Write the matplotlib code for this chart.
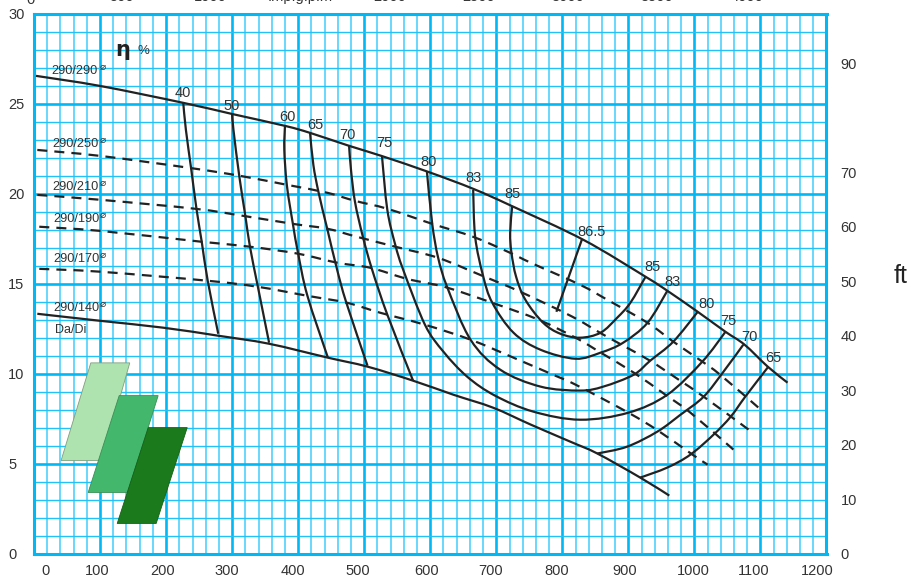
import matplotlib
matplotlib.use("Agg")
import matplotlib.pyplot as plt
from matplotlib.patches import PathPatch
from matplotlib.path import Path

plt.rcParams["font.family"] = ["Liberation Sans", "DejaVu Sans"]

# ---------------------------------------------------------------------------
# Data (x = m3/h scale, y = m)
# ---------------------------------------------------------------------------
x_ticks = list(range(0, 1300, 100))
x_labels = [str(v) for v in x_ticks]
x_label_pos = [17, 95, 194, 292, 392, 491, 594, 692, 791, 894, 998, 1089, 1186]
y_ticks = [0, 5, 10, 15, 20, 25, 30]
ft_ticks = [0, 10, 20, 30, 40, 50, 60, 70, 90]
gpm_ticks = [500, 1000, 1500, 2000, 2500, 3000, 3500, 4000]
gpm_labels = ["500", "1000", "Imp.g.p.m", "2000", "2500", "3000", "3500", "4000"]

d290_x = [3, 100, 226, 300, 380, 418, 477, 526, 597, 665, 723, 832, 926, 959, 1005, 1047, 1076, 1111, 1141]
d290_y = [26.56, 26.0, 25.06, 24.44, 23.78, 23.39, 22.67, 22.11, 21.22, 20.28, 19.33, 17.44, 15.39, 14.61, 13.44, 12.33, 11.61, 10.39, 9.5]

d250_x = [5, 100, 236, 312, 383, 444, 486, 535, 603, 665, 721, 752, 827, 868, 929, 968, 1012, 1039, 1097]
d250_y = [22.44, 22.11, 21.44, 21.0, 20.5, 20.06, 19.61, 19.17, 18.33, 17.61, 16.72, 16.17, 14.94, 14.11, 12.83, 11.78, 10.67, 9.94, 8.11]

d210_x = [5, 100, 244, 316, 392, 444, 489, 547, 612, 679, 736, 815, 862, 930, 976, 1014, 1082]
d210_y = [19.94, 19.67, 19.17, 18.78, 18.33, 18.06, 17.61, 17.06, 16.44, 15.44, 14.56, 13.17, 12.17, 10.78, 9.67, 8.72, 6.89]

d190_x = [8, 100, 255, 327, 400, 459, 509, 559, 585, 626, 694, 764, 823, 858, 908, 956, 994, 1059]
d190_y = [18.17, 17.94, 17.33, 17.06, 16.67, 16.17, 15.89, 15.33, 15.11, 14.78, 13.94, 13.0, 11.94, 11.17, 10.06, 8.83, 7.83, 5.78]

d170_x = [8, 100, 262, 339, 414, 474, 524, 592, 661, 726, 786, 820, 900, 945, 997, 1020]
d170_y = [15.83, 15.67, 15.17, 14.83, 14.33, 13.94, 13.39, 12.72, 11.89, 10.89, 9.94, 9.39, 7.83, 6.83, 5.5, 4.94]

d140_x = [5, 100, 195, 279, 355, 445, 505, 574, 635, 695, 752, 812, 853, 918, 962]
d140_y = [13.33, 12.94, 12.56, 12.11, 11.67, 10.89, 10.39, 9.61, 8.83, 8.11, 7.17, 6.22, 5.56, 4.22, 3.22]

eta40_x = [226, 230, 238, 246, 254, 263, 279]
eta40_y = [25.06, 23.56, 21.39, 19.17, 17.33, 15.17, 12.22]
eta50_x = [300, 302, 311, 320, 327, 339, 356]
eta50_y = [24.44, 23.56, 20.94, 18.78, 17.06, 14.83, 11.72]
eta60_x = [380, 379, 383, 392, 400, 414, 445]
eta60_y = [23.78, 22.44, 20.44, 18.33, 16.67, 14.33, 10.89]
eta65_x = [418, 423, 431, 444, 459, 473, 505]
eta65_y = [23.39, 21.61, 20.06, 18.06, 15.78, 13.94, 10.44]
eta70_x = [477, 480, 486, 498, 512, 535, 574]
eta70_y = [22.72, 21.33, 19.56, 17.61, 15.78, 13.28, 9.61]
eta75_x = [527, 535, 547, 559, 592, 620, 656, 698, 756, 827, 900, 959, 1012, 1047]
eta75_y = [22.06, 19.11, 17.17, 15.78, 12.72, 11.22, 9.83, 8.78, 7.89, 7.44, 7.83, 8.83, 10.67, 12.33]
eta80_x = [595, 603, 612, 626, 661, 706, 767, 827, 862, 908, 933, 968, 1005]
eta80_y = [21.22, 18.33, 16.44, 14.78, 11.89, 10.22, 9.28, 9.06, 9.28, 9.94, 10.72, 11.78, 13.44]
eta83_x = [665, 668, 680, 694, 726, 767, 820, 858, 892, 929, 959]
eta83_y = [20.22, 17.61, 15.44, 13.94, 12.28, 11.33, 10.83, 11.17, 11.72, 12.83, 14.61]
eta85_x = [724, 721, 723, 730, 744, 771, 797, 827, 858, 883, 903, 926]
eta85_y = [19.28, 17.83, 16.72, 15.39, 14.11, 12.83, 12.22, 12.0, 12.28, 13.11, 13.94, 15.39]
eta865_x = [830, 791]
eta865_y = [17.5, 13.44]
eta70r_x = [1074, 1044, 1014, 979, 944, 898, 853]
eta70r_y = [11.61, 10.11, 8.72, 7.72, 6.78, 5.94, 5.56]
eta65r_x = [1112, 1077, 1055, 1029, 994, 959, 918]
eta65r_y = [10.39, 8.72, 7.61, 6.61, 5.5, 4.78, 4.22]

# Green swatches
swatch_light_x = [86, 145, 103, 41]
swatch_light_y = [10.6, 10.6, 5.17, 5.17]
swatch_mid_x = [129, 188, 142, 82]
swatch_mid_y = [8.78, 8.78, 3.39, 3.39]
swatch_dark_x = [173, 232, 185, 126]
swatch_dark_y = [7.0, 7.0, 1.67, 1.67]

GRID = "#00b9f4"
GRID_H = "#22c2f7"
GRID_V = "#6ad6fc"
INK = "#222222"
TEXT = "#333333"
LW = 1.6


def smooth_curve(ax, cx, cy, **kw):
    # bezier path through the read points, the original lines are hand-smooth
    verts = [(cx[0], cy[0])]
    codes = [Path.MOVETO]
    n = len(cx)
    for i in range(n - 1):
        i0, i3 = max(i - 1, 0), min(i + 2, n - 1)
        verts.append((cx[i] + (cx[i + 1] - cx[i0]) / 6, cy[i] + (cy[i + 1] - cy[i0]) / 6))
        verts.append((cx[i + 1] - (cx[i3] - cx[i]) / 6, cy[i + 1] - (cy[i3] - cy[i]) / 6))
        verts.append((cx[i + 1], cy[i + 1]))
        codes += [Path.CURVE4, Path.CURVE4, Path.CURVE4]
    ax.add_patch(PathPatch(Path(verts, codes), fill=False, edgecolor=INK, lw=LW,
                           capstyle="butt", zorder=3, **kw))


# ---------------------------------------------------------------------------
# Axes and grid
# ---------------------------------------------------------------------------
fig = plt.figure(figsize=(9.12, 5.79), dpi=100)
ax = fig.add_axes([34 / 912, 1 - 553.5 / 579, 792.5 / 912, 539.5 / 579])
ax.set_xlim(0, 1200)
ax.set_ylim(0, 30)
ax.set_xticks(x_ticks)
ax.set_xticks(range(0, 1201, 20), minor=True)
ax.set_yticks(y_ticks)
ax.set_yticks(range(0, 31), minor=True)
ax.grid(which="minor", axis="x", color=GRID_V, lw=1.4)
ax.grid(which="minor", axis="y", color=GRID_H, lw=1.0)
ax.grid(which="major", axis="both", color=GRID, lw=1.9)
ax.set_axisbelow(True)
for s in ax.spines.values():
    s.set_color(GRID)
    s.set_linewidth(2.2)

ax.tick_params(which="both", length=0)
ax.set_xticklabels([])
ax.tick_params(axis="y", which="major", labelsize=10.5, labelcolor=TEXT, pad=18.7)
for lab in ax.get_yticklabels():
    lab.set_horizontalalignment("left")

for lab, pos in zip(x_labels, x_label_pos):
    ax.annotate(lab, (pos, 0), xytext=(0, -17.5), textcoords="offset pixels",
                ha="center", va="center", fontsize=10.5, color=TEXT, annotation_clip=False)

right = ax.secondary_yaxis("right", functions=(lambda m: m / 0.303, lambda ft: ft * 0.303))
right.set_yticks(ft_ticks)
right.tick_params(length=0, labelsize=10.5, labelcolor=TEXT, pad=10)
right.spines["right"].set_visible(False)

top = ax.secondary_xaxis("top", functions=(lambda x: (x + 3) / 0.2705, lambda g: g * 0.2705 - 3))
top.set_xticks(gpm_ticks)
top.set_xticklabels(gpm_labels)
top.tick_params(length=0, labelsize=10.5, labelcolor=TEXT, pad=7)
top.spines["top"].set_visible(False)

# ---------------------------------------------------------------------------
# Swatches
# ---------------------------------------------------------------------------
ax.fill(swatch_light_x, swatch_light_y, facecolor="#aee2ae", edgecolor="#7f9f7f", lw=0.6, zorder=2)
ax.fill(swatch_mid_x, swatch_mid_y, facecolor="#43b76b", edgecolor="#3a8f58", lw=0.6, zorder=2.1)
ax.fill(swatch_dark_x, swatch_dark_y, facecolor="#1a7a1c", edgecolor="#166016", lw=0.6, zorder=2.2)

# ---------------------------------------------------------------------------
# Impeller curves
# ---------------------------------------------------------------------------
for cx, cy in [(d290_x, d290_y), (d140_x, d140_y)]:
    smooth_curve(ax, cx, cy)
for cx, cy in [(d250_x, d250_y), (d210_x, d210_y), (d190_x, d190_y), (d170_x, d170_y)]:
    smooth_curve(ax, cx, cy, linestyle=(0, (4.5, 3.2)))

# ---------------------------------------------------------------------------
# Efficiency curves, labelled at the end touching the top curve
# ---------------------------------------------------------------------------
eta_curves = [
    ("40", eta40_x, eta40_y, 0, 10), ("50", eta50_x, eta50_y, 0, 8),
    ("60", eta60_x, eta60_y, 2, 9), ("65", eta65_x, eta65_y, 5, 8),
    ("70", eta70_x, eta70_y, -2, 10), ("75", eta75_x, eta75_y, 2, 14),
    ("80", eta80_x, eta80_y, 2, 10), ("83", eta83_x, eta83_y, 0, 12),
    ("85", eta85_x, eta85_y, 0, 13), ("86.5", eta865_x, eta865_y, 9, 7),
    ("70", eta70r_x, eta70r_y, 6, 8), ("65", eta65r_x, eta65r_y, 5, 9),
]
for lab, cx, cy, dx, dy in eta_curves:
    smooth_curve(ax, cx, cy)
    ax.annotate(lab, (cx[0], cy[0]), xytext=(dx, dy), textcoords="offset pixels",
                ha="center", va="center", fontsize=10.5, color=TEXT, zorder=4)

# the same curves also carry a label at their right hand end
for lab, cx, cy, dx, dy in [("85", eta85_x, eta85_y, 7, 10), ("83", eta83_x, eta83_y, 5, 9),
                            ("80", eta80_x, eta80_y, 9, 8), ("75", eta75_x, eta75_y, 3, 11)]:
    ax.annotate(lab, (cx[-1], cy[-1]), xytext=(dx, dy), textcoords="offset pixels",
                ha="center", va="center", fontsize=10.5, color=TEXT, zorder=4)

# ---------------------------------------------------------------------------
# Free text, placed by picture position
# ---------------------------------------------------------------------------
dia_labels = ["290/290", "290/250", "290/210", "290/190", "290/170", "290/140"]
dia_left = [51, 52, 52, 53, 53, 53]
dia_mid = [71, 144, 187, 219, 259, 308]
for lab, px, py in zip(dia_labels, dia_left, dia_mid):
    fig.text(px / 912, 1 - py / 579, lab, ha="left", va="center", fontsize=9.2, color=TEXT)
    fig.text(103 / 912, 1 - (py - 4) / 579, "\u2300", ha="center", va="center",
             fontsize=7.5, color=TEXT, family="DejaVu Sans")
fig.text(55 / 912, 1 - 330 / 579, "Da/Di", ha="left", va="center", fontsize=9, color=TEXT)
fig.text(123 / 912, 1 - 50 / 579, "\u03b7", ha="center", va="center", fontsize=15,
         fontweight="bold", color=INK, family="DejaVu Sans")
fig.text(143 / 912, 1 - 51 / 579, "%", ha="center", va="center", fontsize=9.5, color=TEXT)
fig.text(901 / 912, 1 - 276 / 579, "ft", ha="center", va="center", fontsize=18, color=INK)
# the 0 of the top scale sits left of the frame, cut by the page edge like the rest
fig.text(31 / 912, 1 - 4 / 579, "0", ha="center", va="baseline", fontsize=10.5, color=TEXT)

fig.savefig("out.png", dpi=100)
plt.close(fig)
